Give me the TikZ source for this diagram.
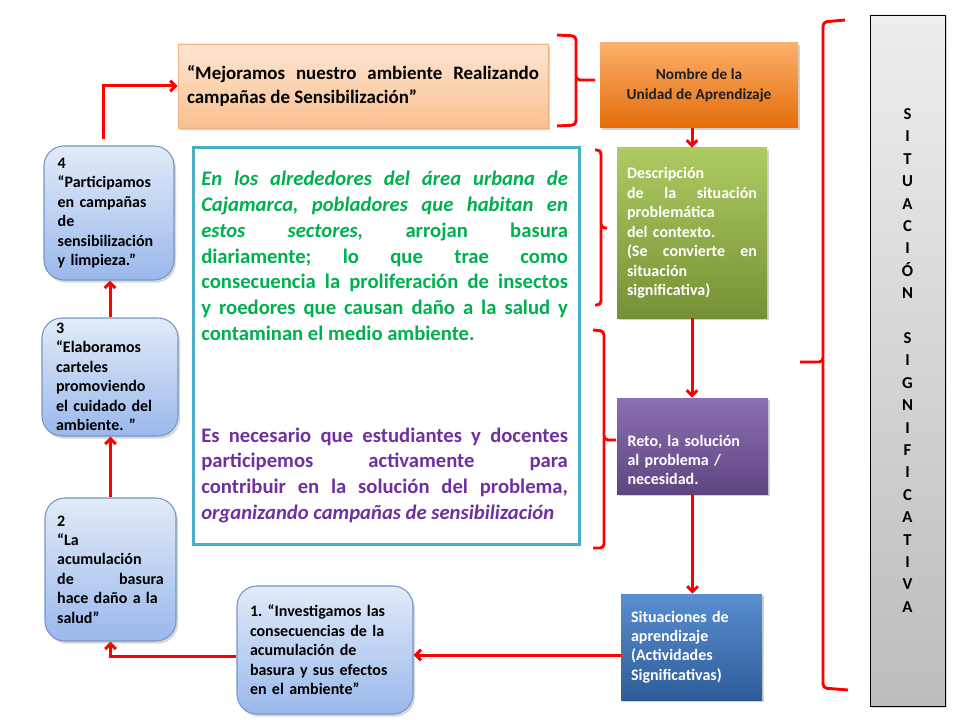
\documentclass[tikz,border=0pt]{standalone}
\usepackage{fontspec}
\setmainfont{Carlito}
\usetikzlibrary{arrows.meta,shadows,calc}
\definecolor{arrred}{HTML}{FF0000}
\definecolor{peachtop}{HTML}{FDE6D2}
\definecolor{peachbot}{HTML}{FAC090}
\definecolor{peachbd}{HTML}{F4B183}
\definecolor{orgtop}{HTML}{FBB06A}
\definecolor{orgbot}{HTML}{E46C0A}
\definecolor{grntop}{HTML}{AECB62}
\definecolor{grnbot}{HTML}{769135}
\definecolor{purtop}{HTML}{8C6FB4}
\definecolor{purbot}{HTML}{5E4680}
\definecolor{blutop}{HTML}{5A8ED0}
\definecolor{blubot}{HTML}{2E5C98}
\definecolor{graytop}{HTML}{EEEEEE}
\definecolor{graybot}{HTML}{BCBCBC}
\definecolor{lbtop}{HTML}{E2EBF8}
\definecolor{lbbot}{HTML}{9AB8EC}
\definecolor{lbbd}{HTML}{7696C8}
\definecolor{teal}{HTML}{4BACC6}
\definecolor{txtgreen}{HTML}{00B050}
\definecolor{txtpurple}{HTML}{7030A0}
\newcommand\smallfnt{\fontsize{12pt}{14.6pt}\selectfont\bfseries}
\newcommand\mainfnt{\fontsize{15.5pt}{19.3pt}\selectfont\bfseries}
\frenchspacing
\begin{document}
\begin{tikzpicture}[x=0.75pt,y=-0.75pt,
  arr/.style={draw=arrred, line width=2.25pt, -{Straight Barb[length=4pt,width=8pt]}},
  bracestyle/.style={draw=arrred, line width=2.2pt, rounded corners=3pt},
  shad/.style={drop shadow={shadow xshift=1.5pt,shadow yshift=-1.5pt,opacity=0.35}},
  sqbox/.style={rectangle, inner sep=0pt, shad, font=\smallfnt},
  rbox/.style={rectangle, rounded corners=15pt, draw=lbbd, line width=0.8pt,
     top color=lbtop, bottom color=lbbot, inner sep=0pt, align=left, font=\smallfnt,
     drop shadow={shadow xshift=1.5pt,shadow yshift=-2pt,opacity=0.3}},
]
\useasboundingbox (0,0) rectangle (960,720);
\fill[white] (0,0) rectangle (960,720);

% top title box
\node[sqbox, draw=peachbd, line width=0.6pt, top color=peachtop, bottom color=peachbot,
  minimum width=277.5pt, minimum height=63pt, text width=264pt, align=justify,
  font=\fontsize{14.2pt}{17.3pt}\selectfont\bfseries] (mej) at (363,86)
  {“Mejoramos nuestro ambiente Realizando\linebreak campañas de Sensibilización”};

% right column
\node[sqbox, top color=orgtop, bottom color=orgbot, minimum width=148.5pt, minimum height=63.75pt,
  align=center, text=black!88, font=\fontsize{11.5pt}{15pt}\selectfont\bfseries] (nombre) at (699,85.5)
  {Nombre de la\\Unidad de Aprendizaje};
\node[sqbox, top color=grntop, bottom color=grnbot, minimum width=112.5pt, minimum height=127.5pt,
  text width=97.5pt, align=left, text=white] (desc) at (692,233)
  {Descripción\\de\hfill la\hfill situación\\problemática\\del contexto.\\(Se\hfill convierte\hfill en\\situación\\significativa)};
\node[sqbox, top color=purtop, bottom color=purbot, minimum width=113.25pt, minimum height=72pt,
  text width=97.5pt, align=left, text=white, text height=32pt, text depth=32pt] (reto) at (692.5,446)
  {Reto, la solución\\al problema /\\necesidad.};
\node[sqbox, top color=blutop, bottom color=blubot, minimum width=105.75pt, minimum height=79.5pt,
  text width=90.75pt, align=left, text=white] (sit) at (691.5,647)
  {Situaciones de\\aprendizaje\\(Actividades\\Significativas)};

% gray tall box
\node[rectangle, draw=black, line width=0.6pt, top color=graytop, bottom color=graybot,
  minimum width=56.25pt, minimum height=518.25pt, inner sep=0pt, align=center,
  drop shadow={shadow xshift=1.5pt,shadow yshift=-1.5pt,opacity=0.3},
  font=\fontsize{12.5pt}{16.8pt}\selectfont\bfseries] (gray) at (907.5,360.5)
  {S\\I\\T\\U\\A\\C\\I\\Ó\\N\\\mbox{}\\S\\I\\G\\N\\I\\F\\I\\C\\A\\T\\I\\V\\A};

% main text box
\node[rectangle, draw=teal, line width=2.25pt, fill=white, minimum width=289.5pt, minimum height=297pt,
  drop shadow={shadow xshift=1.2pt,shadow yshift=-1.2pt,opacity=0.25}] (main) at (386,346) {};
\node[anchor=base west, inner sep=0pt, text width=275pt, align=justify, text=txtgreen, font=\mainfnt] (gtext) at (201,186)
  {{\itshape En los alrededores del área urbana de\linebreak Cajamarca, pobladores que habitan en\linebreak estos sectores,} arrojan basura\linebreak diariamente; lo que trae como\linebreak consecuencia la proliferación de insectos\linebreak y roedores que causan daño a la salud y\linebreak contaminan el medio ambiente.};
\node[anchor=base west, inner sep=0pt, text width=275pt, align=justify, text=txtpurple, font=\mainfnt] (ptext) at (201,442)
  {Es necesario que estudiantes y docentes\linebreak participemos activamente para\linebreak contribuir en la solución del problema,\linebreak {\itshape organizando campañas de sensibilización}};

% left rounded boxes
\node[rbox, minimum width=97.5pt, minimum height=100.5pt, text width=77pt] (b4) at (109,213)
  {4\\“Participamos\\en campañas\\de\\sensibilización\\y limpieza.”};
\node[rbox, minimum width=102pt, minimum height=88.5pt, text width=81pt] (b3) at (110,377)
  {3\\“Elaboramos\\carteles\\promoviendo\\el cuidado del\\ambiente. ”};
\node[rbox, minimum width=98.25pt, minimum height=107.25pt, text width=80pt] (b2) at (110.5,569.5)
  {2\\“La\\acumulación\\de\hfill basura\\hace daño a la\\salud”};
\node[rbox, minimum width=132pt, minimum height=96pt, text width=112.5pt] (b1) at (325,650)
  {1. “Investigamos las\\consecuencias de la\\acumulación de\\basura y sus efectos\\en el ambiente”};

% arrows
\draw[arr] (desc.north |- nombre.south) -- (desc.north);
\draw[arr] (desc.south) -- (desc.south |- reto.north);
\draw[arr] (reto.south) -- (reto.south |- sit.north);
\draw[arr] ([yshift=-6pt]sit.west) -- ([yshift=-6pt]sit.west -| b1.east);
\draw[arr] ([yshift=-5pt]b1.west) -| (b2.south);
\draw[arr] (b2.north) -- (b2.north |- b3.south);
\draw[arr] (b3.north) -- (b3.north |- b4.south);
\draw[arr] ([xshift=-4.5pt,yshift=5pt]b4.north) |- (mej.west);

% braces
\draw[bracestyle] (557,35) -- (576,36) -- (576,80) -- (595,80);
\draw[bracestyle] (576,78) -- (576,125) -- (557,126);
\draw[bracestyle] (595,150) -- (601,150) -- (601,228) -- (607,228);
\draw[bracestyle] (601,226) -- (601,305) -- (595,305);
\draw[bracestyle] (593,330) -- (604,331) -- (604,440) -- (616,440);
\draw[bracestyle] (604,438) -- (604,548) -- (593,548);
\draw[bracestyle] (845,20) -- (823,22) -- (823,362) -- (800,362);
\draw[bracestyle] (823,360) -- (823,688) -- (848,690);
\end{tikzpicture}
\end{document}
